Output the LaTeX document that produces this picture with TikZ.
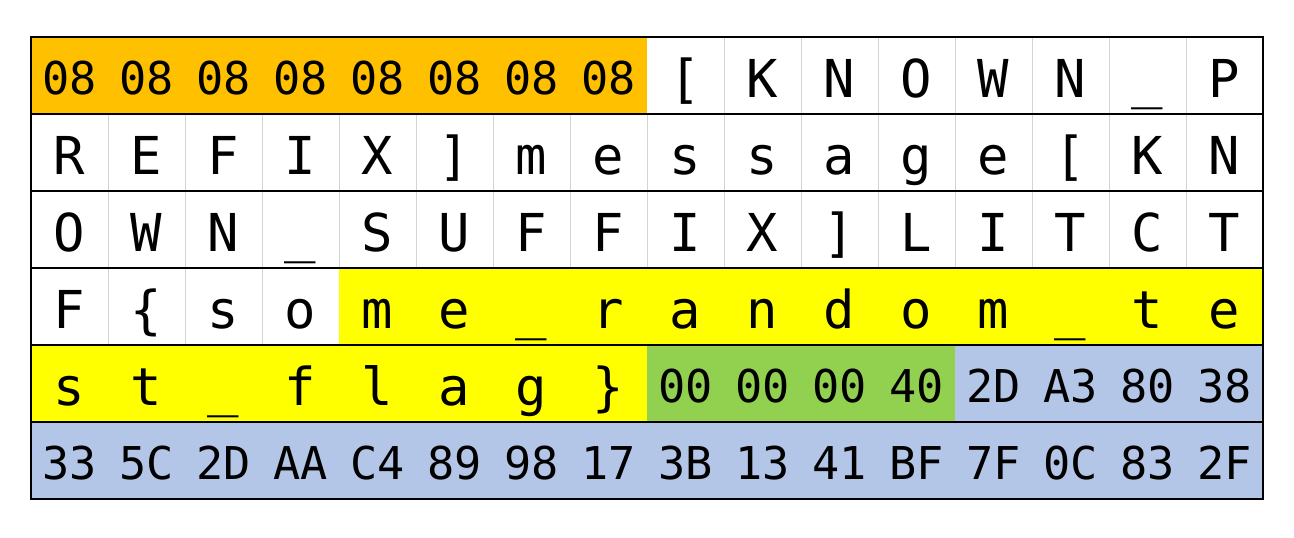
\documentclass[tikz,border=0pt]{standalone}
\usepackage{fontspec}
\setmonofont{DejaVu Sans Mono}
\usepackage{xcolor}
\usepackage{tikz}

\definecolor{padorange}{HTML}{FFC000}
\definecolor{flagyellow}{HTML}{FFFF00}
\definecolor{lengreen}{HTML}{92D050}
\definecolor{macblue}{HTML}{B4C6E7}
\definecolor{gridgray}{HTML}{D4D4D4}

\begin{document}
\begin{tikzpicture}[x=1cm, y=-1cm,
cell/.style={anchor=base, inner sep=0pt, font=\ttfamily\fontsize{19.3}{20}\selectfont},
byte/.style={anchor=base, inner sep=0pt, font=\ttfamily\fontsize{16.7}{18}\selectfont},
rowline/.style={black, line width=0.6pt},
gridline/.style={gridgray, line width=0.35pt}]

\def\cbase{0.792} % baseline of a letter in its row
\def\bbase{0.753} % baseline of a hex byte in its row

\useasboundingbox (-0.4026,-0.4805) rectangle (16.4026,6.4935);

% BLOCK COLOURS
\fill[padorange] (0,0) rectangle (8,1);
\fill[flagyellow] (4,3) rectangle (16,4);
\fill[flagyellow] (0,4) rectangle (8,5);
\fill[lengreen] (8,4) rectangle (12,5);
\fill[macblue] (12,4) rectangle (16,5);
\fill[macblue] (0,5) rectangle (16,6);

% grid in the white cells
\foreach \x in {9,...,15}
    \draw[gridline] (\x,0) -- (\x,1);
\foreach \x in {1,...,15}
    \draw[gridline] (\x,1) -- (\x,3);
\foreach \x in {1,2,3}
    \draw[gridline] (\x,3) -- (\x,4);

% row lines and frame
\foreach \y in {1,...,5}
    \draw[rowline] (0,\y) -- (16,\y);
\draw[rowline] (0,0) rectangle (16,6);

% row 1
\foreach \b [count=\i from 0] in {08,08,08,08,08,08,08,08}
    \node[byte] (pad\i) at (\i+0.5,\bbase) {\b};
\foreach \c [count=\i from 8] in {{[},K,N,O,W,N,\_,P}
    \node[cell] (one\i) at (\i+0.5,\cbase) {\c};

% row 2
\foreach \c [count=\i from 0] in {R,E,F,I,X,{]},m,e,s,s,a,g,e,{[},K,N}
    \node[cell] (two\i) at (\i+0.5,1+\cbase) {\c};

% row 3
\foreach \c [count=\i from 0] in {O,W,N,\_,S,U,F,F,I,X,{]},L,I,T,C,T}
    \node[cell] (three\i) at (\i+0.5,2+\cbase) {\c};

% row 4
\foreach \c [count=\i from 0] in {F,\{,s,o,m,e,\_,r,a,n,d,o,m,\_,t,e}
    \node[cell] (four\i) at (\i+0.5,3+\cbase) {\c};

% row 5
\foreach \c [count=\i from 0] in {s,t,\_,f,l,a,g,\}}
    \node[cell] (five\i) at (\i+0.5,4+\cbase) {\c};
\foreach \b [count=\i from 8] in {00,00,00,40,2D,A3,80,38}
    \node[byte] (five\i) at (\i+0.5,4+\bbase) {\b};

% row 6
\foreach \b [count=\i from 0] in {33,5C,2D,AA,C4,89,98,17,3B,13,41,BF,7F,0C,83,2F}
    \node[byte] (six\i) at (\i+0.5,5+\bbase) {\b};

\end{tikzpicture}
\end{document}
